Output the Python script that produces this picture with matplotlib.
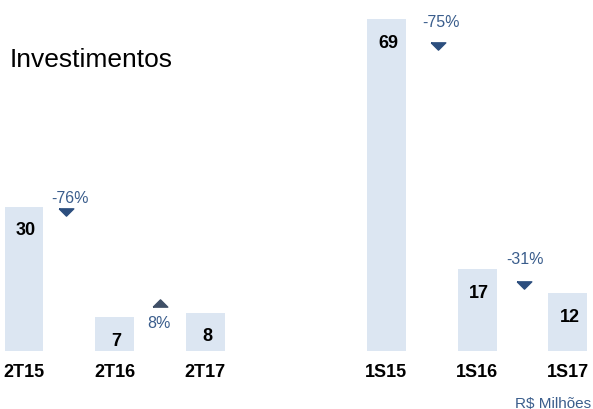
import matplotlib.pyplot as plt
from matplotlib.path import Path

plt.rcParams["font.family"] = ["Liberation Sans", "DejaVu Sans"]

# data
periods = ["2T15", "2T16", "2T17", "1S15", "1S16", "1S17"]
values = [30, 7, 8, 69, 17, 12]
changes = ["-76%", "8%", "-75%", "-31%"]
change_pairs = [(0, 1), (1, 2), (3, 4), (4, 5)]

# layout (slots: a gap between the two groups)
slots = [0, 1, 2, 4, 5, 6]
px_per_unit = 4.81  # pixels per R$ milhão

bar_color = "#dce6f2"
blue_text = "#3a5d8c"

fig = plt.figure(figsize=(5.93, 4.10), dpi=100)
ax = fig.add_axes([0, 0, 1, 1])
ax.set_xlim(-0.265, 6.28)
ax.set_ylim(-58 / px_per_unit, 352 / px_per_unit)
ax.axis("off")

ax.bar(slots, values, width=0.43, color=bar_color, linewidth=0)

for x, v, lab in zip(slots, values, periods):
    ax.annotate(str(v), (x, v), xytext=(2, -23), textcoords="offset pixels",
                ha="center", va="center", fontsize=13, fontweight="bold")
    ax.annotate(lab, (x, 0), xytext=(0, -21), textcoords="offset pixels",
                ha="center", va="center", fontsize=13, fontweight="bold")

# change markers: offset (px) of marker from the higher bar top, text offset from marker
marker_dy = [-5.5, 10, -27, -16]
marker_dx = [-3, 0, 6, 2]
text_dy = [14.5, -20, 25, 27]
text_dx = [3.5, -1, 3, 1]

down = Path([(-1, 0.5), (1, 0.5), (0, -0.5), (-1, 0.5)])
up = Path([(-1, -0.5), (1, -0.5), (0, 0.5), (-1, -0.5)])

for (a, b), txt, mdy, mdx, tdy, tdx in zip(change_pairs, changes, marker_dy,
                                           marker_dx, text_dy, text_dx):
    xm = (slots[a] + slots[b]) / 2 + mdx / 90.6
    ym = max(values[a], values[b]) + mdy / px_per_unit
    is_up = not txt.startswith("-")
    ax.plot([xm], [ym], marker=up if is_up else down, markersize=10.5,
            color="#3f4f66" if is_up else "#2c4e7e", linestyle="none")
    ax.annotate(txt, (xm, ym), xytext=(tdx, tdy), textcoords="offset pixels",
                ha="center", va="center", fontsize=11.5, color=blue_text)

fig.text(10 / 593, 1 - 60 / 410, "Investimentos", fontsize=19,
         ha="left", va="center")
fig.text(591 / 593, 1 - 404 / 410, "R$ Milhões", fontsize=11,
         ha="right", va="center", color=blue_text)

fig.savefig("out.png", dpi=100)
